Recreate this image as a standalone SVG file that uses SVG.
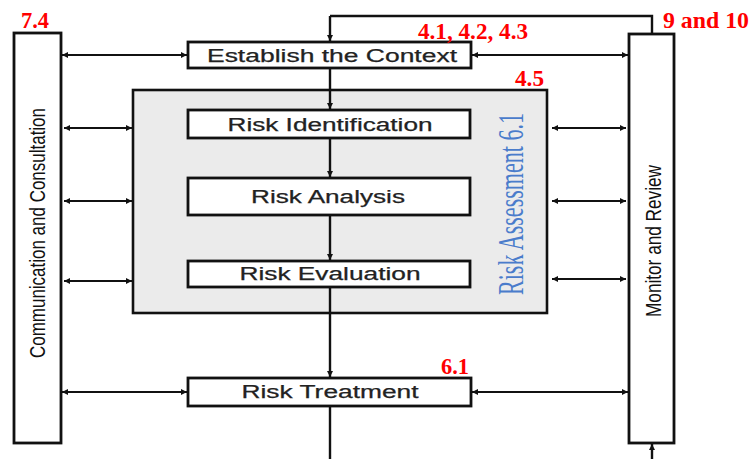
<svg xmlns="http://www.w3.org/2000/svg" width="751" height="459" viewBox="0 0 751 459">
<defs>
<marker id="ah" viewBox="0 0 10 10" refX="10" refY="5" markerWidth="7" markerHeight="6" markerUnits="userSpaceOnUse" orient="auto-start-reverse">
<path d="M0,0 L10,5 L0,10 z" fill="#111"/>
</marker>
<style>
.box{fill:#fff;stroke:#111;stroke-width:2.8}
.grey{fill:#ebebeb;stroke:#111;stroke-width:2.6}
.lbl{font-family:"Liberation Sans",Arial,sans-serif;font-size:17.5px;fill:#222;text-anchor:middle;stroke:#222;stroke-width:0.25}
.vlbl{font-family:"Liberation Sans",Arial,sans-serif;font-size:22px;fill:#111;text-anchor:middle}
.red{font-family:"Liberation Serif","Times New Roman",serif;font-weight:bold;font-size:24px;fill:#ff0000}
.blue{font-family:"Liberation Serif","Times New Roman",serif;font-size:35px;fill:#4a7ccb;text-anchor:middle}
.ln{fill:none;stroke:#111;stroke-width:2.4}
.dbl{fill:none;stroke:#111;stroke-width:2.2;marker-start:url(#ah);marker-end:url(#ah)}
.one{fill:none;stroke:#111;stroke-width:2.4;marker-end:url(#ah)}
</style>
</defs>
<rect width="751" height="459" fill="#fff"/>

<g id="risk-assessment">
<rect class="grey" x="133" y="90" width="414" height="223"/>
<text class="blue" transform="translate(523,204) rotate(-90)" textLength="182" lengthAdjust="spacingAndGlyphs">Risk Assessment 6.1</text>
</g>

<g id="connectors">
<line class="one" x1="330" y1="16" x2="330" y2="41"/>
<polyline class="ln" points="330,16 652,16 652,34"/>
<line class="dbl" x1="62" y1="55" x2="187" y2="55"/>
<line class="dbl" x1="472" y1="55" x2="628" y2="55"/>
<line class="one" x1="330" y1="68" x2="330" y2="109"/>
<line class="one" x1="330" y1="138" x2="330" y2="177"/>
<line class="one" x1="330" y1="215" x2="330" y2="260"/>
<line class="one" x1="330" y1="287" x2="330" y2="377"/>
<line class="ln" x1="330" y1="406" x2="330" y2="459"/>
<line class="one" x1="652" y1="459" x2="652" y2="444"/>
<line class="dbl" x1="64" y1="128" x2="132" y2="128"/>
<line class="dbl" x1="64" y1="201" x2="132" y2="201"/>
<line class="dbl" x1="64" y1="281" x2="132" y2="281"/>
<line class="dbl" x1="552" y1="128" x2="626" y2="128"/>
<line class="dbl" x1="552" y1="201" x2="626" y2="201"/>
<line class="dbl" x1="552" y1="279" x2="626" y2="279"/>
<line class="dbl" x1="62" y1="392" x2="187" y2="392"/>
<line class="dbl" x1="472" y1="392" x2="628" y2="392"/>
</g>

<g id="communication">
<rect class="box" x="14" y="33" width="47" height="410"/>
<text class="vlbl" transform="translate(45,233) rotate(-90)" textLength="250" lengthAdjust="spacingAndGlyphs">Communication and Consultation</text>
</g>

<g id="monitor">
<rect class="box" x="629" y="34" width="45" height="409"/>
<text class="vlbl" transform="translate(661,241) rotate(-90)" textLength="152" lengthAdjust="spacingAndGlyphs">Monitor and Review</text>
</g>

<g id="establish">
<rect class="box" x="188" y="42" width="283" height="26"/>
<text class="lbl" x="332" y="62" textLength="250" lengthAdjust="spacingAndGlyphs">Establish the Context</text>
</g>

<g id="identification">
<rect class="box" x="188" y="110" width="282" height="28"/>
<text class="lbl" x="330" y="131" textLength="205" lengthAdjust="spacingAndGlyphs">Risk Identification</text>
</g>

<g id="analysis">
<rect class="box" x="188" y="178" width="282" height="37"/>
<text class="lbl" x="328" y="203" textLength="154" lengthAdjust="spacingAndGlyphs">Risk Analysis</text>
</g>

<g id="evaluation">
<rect class="box" x="188" y="261" width="282" height="26"/>
<text class="lbl" x="330" y="280" textLength="181" lengthAdjust="spacingAndGlyphs">Risk Evaluation</text>
</g>

<g id="treatment">
<rect class="box" x="188" y="378" width="283" height="28"/>
<text class="lbl" x="330" y="398" textLength="177" lengthAdjust="spacingAndGlyphs">Risk Treatment</text>
</g>

<g id="refs">
<text class="red" x="21" y="28" textLength="28" lengthAdjust="spacingAndGlyphs">7.4</text>
<text class="red" x="418" y="39" textLength="110" lengthAdjust="spacingAndGlyphs">4.1, 4.2, 4.3</text>
<text class="red" x="663" y="28" textLength="86" lengthAdjust="spacingAndGlyphs">9 and 10</text>
<text class="red" x="515" y="86" textLength="29" lengthAdjust="spacingAndGlyphs">4.5</text>
<text class="red" x="441" y="374" textLength="28" lengthAdjust="spacingAndGlyphs">6.1</text>
</g>
</svg>
